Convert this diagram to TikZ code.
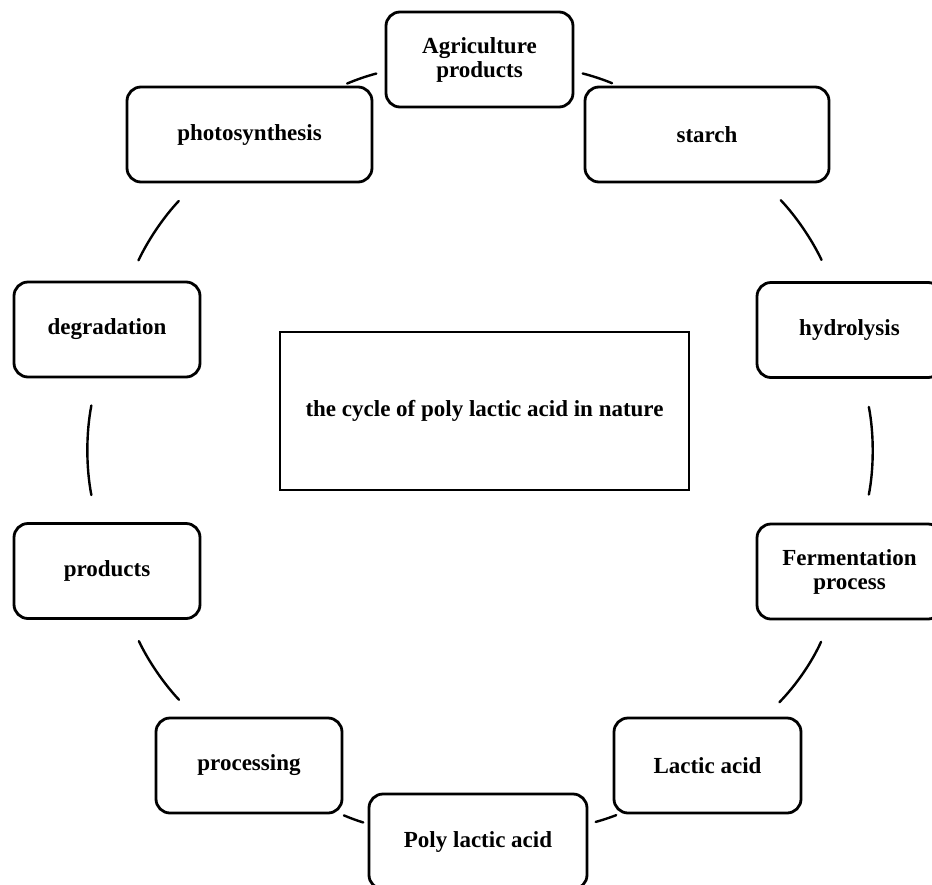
\documentclass[tikz,border=0pt]{standalone}
\usepackage{fontspec}
\setmainfont{Liberation Serif}

\tikzset{
	stage/.style={draw, line width=2.8pt, rounded corners=14pt, outer sep=0pt, align=center,
		minimum height=95pt, font=\bfseries\fontsize{23}{24}\selectfont},
	titlebox/.style={draw, line width=2.8pt, outer sep=0pt, minimum width=409pt, minimum height=158pt,
		font=\bfseries\fontsize{23}{24}\selectfont},
	link/.style={line width=2.4pt, line cap=round}
}

\begin{document}
\begin{tikzpicture}[x=1pt,y=-1pt]
					\useasboundingbox (0,0) rectangle (932,884);
					\clip (0,0) rectangle (932,884);

					% the ten stages round the circle
					\node[stage, minimum width=187pt] (agri) at (479.5,59.5) {Agriculture\\products};
					\node[stage, minimum width=244pt] (starch) at (707,134.5) {starch};
					\node[stage, minimum width=185pt] (hydro) at (849.5,330) {hydrolysis};
					\node[stage, minimum width=185pt] (ferm) at (849.5,571.5) {Fermentation\\process};
					\node[stage, minimum width=187pt] (lactic) at (707.5,765.5) {Lactic acid};
					\node[stage, minimum width=218pt] (poly) at (478,841.5) {Poly lactic acid};
					\node[stage, minimum width=186pt] (proc) at (249,765.5) {processing};
					\node[stage, minimum width=186pt] (products) at (107,571) {products};
					\node[stage, minimum width=186pt] (degr) at (107,329.5) {degradation};
					\node[stage, minimum width=245pt] (photo) at (249.5,134.5) {photosynthesis};

					% title in the middle
					\node[titlebox] (cycle) at (484.5,411) {the cycle of poly lactic acid in nature};

					% arcs from one stage to the next
					\draw[link, shorten <=10pt, shorten >=10pt] (agri.-7) to[bend left=4] (starch.151);
					\draw[link, shorten <=25pt, shorten >=25pt] (starch.-40) to[bend left=9] (hydro.110);
					\draw[link, shorten <=30pt, shorten >=30pt] (hydro.-74) to[bend left=11] (ferm.74);
					\draw[link, shorten <=25pt, shorten >=22pt] (ferm.-111) to[bend left=10] (lactic.40);
					\draw[link, shorten <=6pt, shorten >=9pt] (lactic.-151) to[bend left=3] (poly.9);
					\draw[link, shorten <=6pt, shorten >=6pt] (poly.171) to[bend left=3] (proc.-28);
					\draw[link, shorten <=25pt, shorten >=25pt] (proc.138) to[bend left=9] (products.-66);
					\draw[link, shorten <=29pt, shorten >=29pt] (products.102) to[bend left=11] (degr.-102);
					\draw[link, shorten <=24pt, shorten >=26pt] (degr.66) to[bend left=9] (photo.-138);
					\draw[link, shorten <=9pt, shorten >=10pt] (photo.28) to[bend left=4] (agri.-173);
\end{tikzpicture}
\end{document}
